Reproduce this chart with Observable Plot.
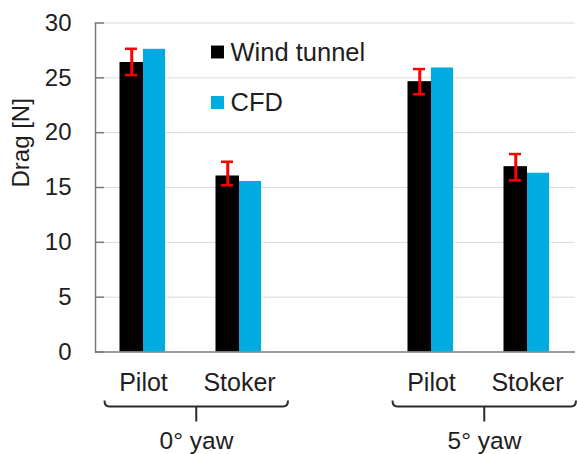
<!DOCTYPE html>
<html>
<head>
<meta charset="utf-8">
<script src="https://cdn.jsdelivr.net/npm/d3@7"></script>
<script src="https://cdn.jsdelivr.net/npm/@observablehq/plot@0.6"></script>
<style>
  html, body { margin: 0; padding: 0; background: #ffffff; }
  svg { display: block; }
</style>
</head>
<body>
<div id="chart"></div>
<script>
// ---- data ----
const groups = ["0° yaw", "5° yaw"];
const categories = ["Pilot", "Stoker"];
const windTunnel = [26.4, 16.05, 24.65, 16.9];
const cfd = [27.6, 15.55, 25.9, 16.3];
const errLow = [25.25, 15.2, 23.5, 15.65];
const errHigh = [27.65, 17.35, 25.8, 18.05];
const yTicks = [0, 5, 10, 15, 20, 25, 30];
const seriesNames = ["Wind tunnel", "CFD"];
const seriesColors = ["#000000", "#00abe3"];
const yLabel = "Drag [N]";

// ---- build table ----
const keys = groups.flatMap(g => categories.map(c => `${g}|${c}`));
const rows = keys.map((k, i) => ({
  key: k, wind: windTunnel[i], cfd: cfd[i], lo: errLow[i], hi: errHigh[i]
}));
// empty slot between the two yaw groups
const domain = [...keys.slice(0, 2), "spacer", ...keys.slice(2)];

const FONT = "'Liberation Sans', Arial, sans-serif";
const TEXT = "#1e1e1e";
const AXIS = "#7a7a7a";

const legendMarks = seriesNames.flatMap((name, i) => [
  Plot.dot([name], {frameAnchor: "top-left", symbol: "square", r: 7.3,
    fill: seriesColors[i], stroke: null, dx: 122, dy: 29 + i * 50.5}),
  Plot.text([name], {frameAnchor: "top-left", text: d => d, textAnchor: "start",
    lineAnchor: "middle", fontSize: 25.5, fill: TEXT, dx: 135, dy: 30 + i * 49.5})
]);

const plot = Plot.plot({
  width: 577,
  height: 454,
  marginLeft: 95,
  marginRight: 2,
  marginTop: 22.5,
  marginBottom: 102.5,
  style: {fontFamily: FONT, fontSize: "24px", color: TEXT, background: "#ffffff", overflow: "visible"},
  x: {type: "band", domain, padding: 0, axis: null},
  y: {domain: [0, 30], axis: null},
  marks: [
    Plot.ruleY(yTicks.filter(v => v > 0), {stroke: "#d9d9d9", strokeWidth: 1}),
    Plot.barY(rows, {x: "key", y: "wind", fill: seriesColors[0], insetLeft: 24.5, insetRight: 48}),
    Plot.barY(rows, {x: "key", y: "cfd", fill: seriesColors[1], insetLeft: 48, insetRight: 26}),
    Plot.ruleX(rows, {x: "key", y1: "lo", y2: "hi", stroke: "#ff0000", strokeWidth: 3, dx: -11.75}),
    Plot.tickY(rows, {x: "key", y: "hi", stroke: "#ff0000", strokeWidth: 2.5, insetLeft: 30, insetRight: 54}),
    Plot.tickY(rows, {x: "key", y: "lo", stroke: "#ff0000", strokeWidth: 2.5, insetLeft: 30, insetRight: 54}),
    Plot.ruleY([0], {stroke: AXIS, strokeWidth: 1.5}),
    Plot.frame({anchor: "left", stroke: AXIS, strokeWidth: 1.5}),
    Plot.axisY({ticks: yTicks, tickSize: 0, tickPadding: 24, fontSize: 24, label: null, fill: TEXT}),
    Plot.axisY({ticks: yTicks, tickSize: -9, text: null, stroke: AXIS, strokeWidth: 1.5, label: null}),
    Plot.axisX({domain: keys, tickSize: 0, tickPadding: 21, fontSize: 25, label: null, fill: TEXT,
      tickFormat: k => (k.split("|")[1] ?? "")}),
    Plot.text([yLabel], {frameAnchor: "left", text: d => d, rotate: -90, dx: -74, fontSize: 24, fill: TEXT}),
    Plot.text(groups, {x: g => `${g}|${categories[0]}`, y: () => 0, text: d => d,
      dx: 53, dy: 89.5, lineAnchor: "middle", fontSize: 24.5, fill: TEXT}),
    ...legendMarks
  ]
});

document.getElementById("chart").appendChild(plot);

// ---- braces under each yaw group, positioned from the plot's own scales ----
const xs = plot.scale("x");
const ys = plot.scale("y");
const bw = xs.bandwidth;
const y0 = ys.apply(0);
const yb = y0 + 55;
const svg = d3.select(plot);
const g = svg.append("g").attr("fill", "none").attr("stroke", "#2a2a2a").attr("stroke-width", 2);
for (const grp of groups) {
  const x1 = xs.apply(`${grp}|${categories[0]}`) + 9.5;
  const x2 = xs.apply(`${grp}|${categories[categories.length - 1]}`) + bw + 1;
  const cx = (x1 + x2) / 2;
  g.append("path").attr("d",
    `M${x1},${yb - 6} Q${x1},${yb} ${x1 + 5},${yb} H${x2 - 5} Q${x2},${yb} ${x2},${yb - 6}`);
  g.append("path").attr("d", `M${cx},${yb} V${yb + 15}`);
}
</script>
</body>
</html>
